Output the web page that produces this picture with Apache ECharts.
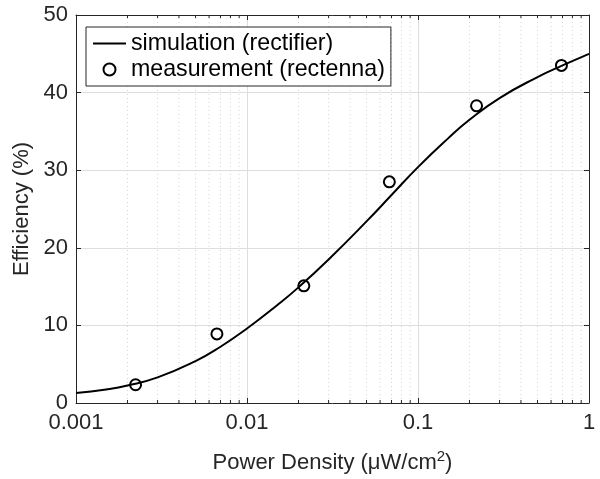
<!DOCTYPE html>
<html>
<head>
<meta charset="utf-8">
<script src="https://cdn.jsdelivr.net/npm/echarts@6/dist/echarts.min.js"></script>
<style>html,body{margin:0;padding:0;background:#fff;}#chart{width:600px;height:479px;}</style>
</head>
<body>
<div id="chart"></div>
<script>
// Simulation curve (rectifier)
const simX = [0.001, 0.0015, 0.002, 0.003, 0.005, 0.007, 0.01, 0.015, 0.02, 0.03, 0.05, 0.07, 0.1, 0.15, 0.2, 0.3, 0.5, 0.7, 1];
const simY = [1.3, 1.75, 2.25, 3.3, 5.4, 7.25, 9.6, 12.6, 14.9, 18.5, 23.4, 26.8, 30.4, 34.1, 36.5, 39.3, 42.0, 43.5, 45.0];
// Measurement points (rectenna)
const measX = [0.00223, 0.00667, 0.0215, 0.068, 0.22, 0.69];
const measY = [2.35, 8.9, 15.1, 28.5, 38.3, 43.5];
// Axis ticks
const xMajorTicks = [0.001, 0.01, 0.1, 1];
const xMinorTicks = [0.002,0.003,0.004,0.005,0.006,0.007,0.008,0.009,
                     0.02,0.03,0.04,0.05,0.06,0.07,0.08,0.09,
                     0.2,0.3,0.4,0.5,0.6,0.7,0.8,0.9];
const yTicks = [0, 10, 20, 30, 40, 50];
const seriesNames = ['simulation (rectifier)', 'measurement (rectenna)'];

const FONT = 'Liberation Sans, Arial, Helvetica, sans-serif';
const AX = '#262626';

const chart = echarts.init(document.getElementById('chart'), null, {renderer: 'canvas'});

function fmtX(v) {
  let best = xMajorTicks[0];
  for (const t of xMajorTicks) if (Math.abs(Math.log10(t) - Math.log10(v)) < Math.abs(Math.log10(best) - Math.log10(v))) best = t;
  return String(best);
}

const option = {
  backgroundColor: '#fff',
  animation: false,
  textStyle: {fontFamily: FONT},
  grid: {left: 76, right: 11, top: 15, bottom: 76, containLabel: false},
  legend: {
    orient: 'vertical',
    left: 86, top: 27,
    padding: [5, 6, 5, 7],
    itemGap: 3,
    itemWidth: 33, itemHeight: 12,
    backgroundColor: '#fff',
    borderColor: AX, borderWidth: 1, borderRadius: 0,
    textStyle: {fontFamily: FONT, fontSize: 23.2, color: '#000'},
    data: [
      {name: seriesNames[0], icon: 'path://M0,0L33,0L33,2L0,2Z'},
      {name: seriesNames[1]}
    ],
    selectedMode: false
  },
  xAxis: [{
    type: 'log', logBase: 10,
    min: xMajorTicks[0], max: xMajorTicks[xMajorTicks.length - 1],
    name: 'Power Density (μW/cm{sup|2})',
    nameLocation: 'middle', nameGap: 46,
    nameTextStyle: {fontFamily: FONT, fontSize: 22, color: AX,
      rich: {sup: {fontSize: 15, color: AX, fontFamily: FONT, padding: [0, 0, 13, 0]}}},
    axisLine: {show: true, onZero: false, lineStyle: {color: AX, width: 1}},
    axisTick: {show: true, inside: true, length: 5, lineStyle: {color: AX}},
    axisLabel: {fontFamily: FONT, fontSize: 22, color: AX, margin: 9, formatter: fmtX},
    splitLine: {show: true, lineStyle: {color: '#dedede', width: 1}},
    minorTick: {show: false}
  }, {
    type: 'log', logBase: 10, position: 'top',
    min: xMajorTicks[0], max: xMajorTicks[xMajorTicks.length - 1],
    axisLine: {show: true, onZero: false, lineStyle: {color: AX, width: 1}},
    axisTick: {show: true, inside: true, length: 5, lineStyle: {color: AX}},
    axisLabel: {show: false},
    splitLine: {show: false}
  }],
  yAxis: [{
    type: 'value', min: yTicks[0], max: yTicks[yTicks.length - 1], interval: 10,
    name: 'Efficiency (%)', nameLocation: 'middle', nameGap: 38, nameRotate: 90,
    nameTextStyle: {fontFamily: FONT, fontSize: 22, color: AX},
    axisLine: {show: true, onZero: false, lineStyle: {color: AX, width: 1}},
    axisTick: {show: true, inside: true, length: 5, lineStyle: {color: AX}},
    axisLabel: {fontFamily: FONT, fontSize: 22, color: AX, margin: 8},
    splitLine: {show: true, lineStyle: {color: '#dedede', width: 1}}
  }, {
    type: 'value', position: 'right', min: yTicks[0], max: yTicks[yTicks.length - 1], interval: 10,
    axisLine: {show: true, onZero: false, lineStyle: {color: AX, width: 1}},
    axisTick: {show: true, inside: true, length: 5, lineStyle: {color: AX}},
    axisLabel: {show: false},
    splitLine: {show: false}
  }],
  series: [{
    type: 'custom',
    name: 'minor',
    xAxisIndex: 0, yAxisIndex: 0,
    silent: true, z: 1,
    clip: false,
    data: xMinorTicks.map(v => [v, yTicks[0]]),
    renderItem: function (params, api) {
      const x = api.value(0);
      const pb = api.coord([x, yTicks[0]]);
      const pt = api.coord([x, yTicks[yTicks.length - 1]]);
      return {
        type: 'group',
        children: [
          {type: 'line', shape: {x1: pb[0], y1: pb[1], x2: pt[0], y2: pt[1]},
           style: {stroke: '#d4d4d4', lineWidth: 1, lineDash: [1, 3]}},
          {type: 'line', shape: {x1: pb[0], y1: pb[1], x2: pb[0], y2: pb[1] - 3},
           style: {stroke: AX, lineWidth: 1}},
          {type: 'line', shape: {x1: pt[0], y1: pt[1], x2: pt[0], y2: pt[1] + 3},
           style: {stroke: AX, lineWidth: 1}}
        ]
      };
    }
  }, {
    type: 'line',
    name: seriesNames[0],
    xAxisIndex: 0, yAxisIndex: 0,
    data: simX.map((x, i) => [x, simY[i]]),
    smooth: 0.5,
    symbol: 'none',
    lineStyle: {color: '#000', width: 2},
    itemStyle: {color: '#000'},
    z: 3
  }, {
    type: 'scatter',
    name: seriesNames[1],
    xAxisIndex: 0, yAxisIndex: 0,
    data: measX.map((x, i) => [x, measY[i]]),
    symbol: 'circle',
    symbolSize: 11,
    itemStyle: {color: 'rgba(0,0,0,0)', borderColor: '#000', borderWidth: 2, opacity: 1},
    z: 4
  }]
};
chart.setOption(option);
</script>
</body>
</html>
